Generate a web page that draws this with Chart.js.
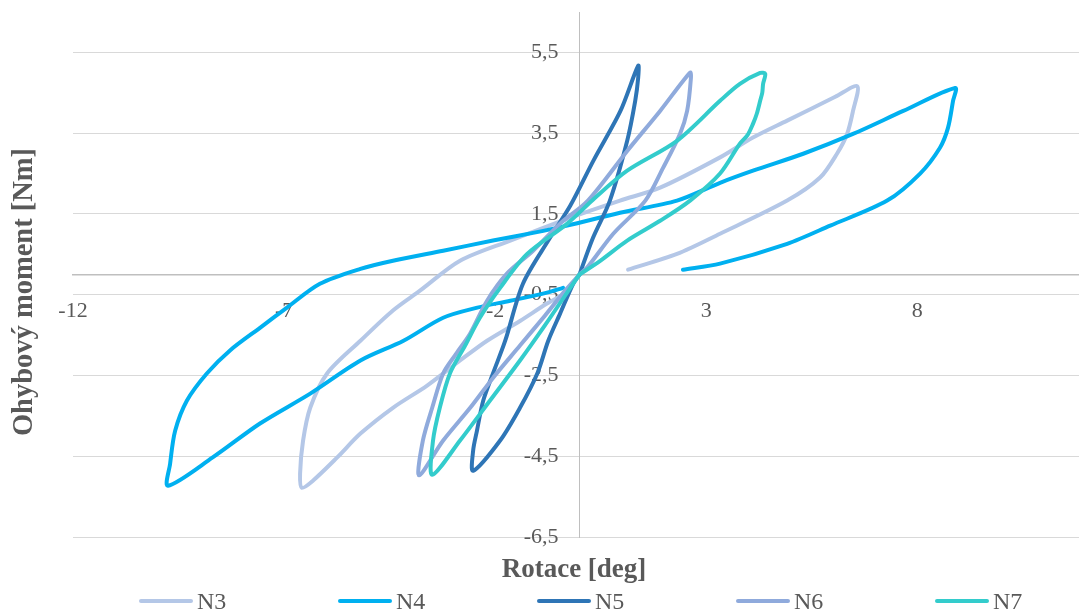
<!DOCTYPE html>
<html lang="cs">
<head>
<meta charset="utf-8">
<title>Ohybový moment – rotace</title>
<script src="https://cdn.jsdelivr.net/npm/chart.js@4.4.1/dist/chart.umd.min.js"></script>
<style>
    html, body { margin: 0; padding: 0; background: #fff; overflow: hidden; }
    #obal { position: relative; width: 1079px; height: 613px; overflow: hidden; }
    #graf { position: absolute; left: 0; top: 0; }
    #legenda {
        position: absolute; left: 139px; top: 587px; height: 28px;
        display: flex; align-items: center;
        font: 24px 'Liberation Serif', 'Times New Roman', serif; color: #595959;
    }
    .polozka { width: 199px; display: flex; align-items: center; }
    .vzorek { width: 54px; height: 4px; border-radius: 2px; margin-right: 4px; }
</style>
</head>
<body>
<div id="obal">
    <canvas id="graf" width="1086" height="613"></canvas>
    <div id="legenda"></div>
</div>
<script>
// Popisky a osy
const nazvySerii = ['N3', 'N4', 'N5', 'N6', 'N7'];
const rotaceTicks = [-12, -7, -2, 3, 8];
const momentTicks = [-6.5, -4.5, -2.5, -0.5, 1.5, 3.5, 5.5];

// Namerene smycky (rotace [deg], moment [Nm])
const n3Rotace = [1.15, 2.31, 3.33, 4.92, 5.70, 6.10, 6.34, 6.48, 6.58, 6.06, 4.92, 4.11, 3.33, 1.91, 0.96, -0.29, -1.64, -2.83, -3.78, -4.42, -5.19, -5.98, -6.38, -6.55, -6.62, -6.58, -6.31, -5.74, -5.19, -4.42, -3.61, -2.83, -2.19, -1.41, -0.77, -0.39];
const n3Moment = [0.12, 0.51, 1.01, 1.83, 2.40, 2.99, 3.48, 4.05, 4.66, 4.40, 3.81, 3.39, 2.90, 2.15, 1.83, 1.38, 0.84, 0.34, -0.40, -0.89, -1.64, -2.45, -3.30, -4.12, -4.93, -5.28, -5.10, -4.53, -3.94, -3.30, -2.75, -2.13, -1.64, -1.15, -0.72, -0.50];

const n4Rotace = [2.45, 3.33, 4.92, 5.94, 7.29, 8.07, 8.54, 8.73, 8.85, 8.90, 7.67, 6.48, 5.30, 4.11, 3.33, 2.31, 0.96, -0.29, -1.10, -2.05, -3.23, -4.42, -5.19, -6.15, -6.93, -7.57, -8.28, -8.83, -9.30, -9.58, -9.70, -9.75, -8.69, -7.57, -6.38, -5.19, -4.17, -3.23, -2.42, -1.64, -0.77, -0.39];
const n4Moment = [0.12, 0.27, 0.76, 1.21, 1.83, 2.50, 3.14, 3.63, 4.30, 4.62, 4.05, 3.48, 2.99, 2.57, 2.27, 1.83, 1.53, 1.21, 1.03, 0.84, 0.59, 0.34, 0.14, -0.23, -0.82, -1.32, -1.88, -2.45, -3.12, -3.87, -4.69, -5.23, -4.53, -3.69, -2.95, -2.13, -1.64, -1.07, -0.82, -0.65, -0.45, -0.33];

const n5Rotace = [0, 0.32, 0.72, 1.13, 1.32, 1.39, 1.39, 0.97, 0.33, -0.22, -0.74, -1.34, -1.76, -2.05, -2.28, -2.43, -2.52, -2.52, -1.88, -1.41, -1.00, -0.74, -0.46, -0.15, 0];
const n5Moment = [0, 0.91, 1.83, 3.31, 4.30, 4.87, 5.17, 4.05, 2.82, 1.70, 0.84, -0.23, -1.64, -2.45, -3.12, -3.87, -4.36, -4.86, -4.11, -3.30, -2.45, -1.64, -0.97, -0.23, 0];

const n6Rotace = [0, 0.18, 0.80, 1.56, 1.98, 2.38, 2.55, 2.64, 2.62, 1.91, 1.13, 0.20, -0.46, -1.10, -1.72, -2.19, -2.59, -2.92, -3.23, -3.49, -3.71, -3.80, -3.23, -2.59, -2.05, -1.41, -0.82, -0.34, 0];
const n6Moment = [0, 0.17, 1.01, 1.83, 2.64, 3.48, 4.05, 4.87, 5.00, 4.05, 3.06, 1.83, 1.26, 0.59, 0.02, -0.65, -1.46, -1.96, -2.45, -3.30, -4.11, -4.97, -4.11, -3.30, -2.56, -1.76, -1.02, -0.40, 0];

const n7Rotace = [0, 0.49, 1.13, 1.91, 2.62, 3.33, 3.80, 3.98, 4.11, 4.20, 4.28, 4.33, 4.35, 4.40, 4.28, 3.80, 3.33, 2.31, 1.13, 0.37, -0.29, -1.24, -1.88, -2.36, -2.71, -3.07, -3.31, -3.47, -3.49, -2.83, -2.12, -1.41, -0.82, -0.34, 0];
const n7Moment = [0, 0.34, 0.84, 1.33, 1.83, 2.50, 3.24, 3.45, 3.73, 3.98, 4.30, 4.50, 4.72, 4.97, 4.99, 4.72, 4.30, 3.31, 2.57, 1.90, 1.26, 0.51, -0.33, -1.07, -1.76, -2.45, -3.30, -4.11, -4.96, -4.11, -3.12, -2.13, -1.26, -0.52, 0];

const barvy = ['#b4c7e7', '#00b0f0', '#2e75b6', '#8faadc', '#33cccc'];
const pismo = "'Liberation Serif', 'Times New Roman', serif";

function body(rotace, moment) {
    return rotace.map((x, i) => ({ x: x, y: moment[i] }));
}

function formatCislo(value) {
    return String(value).replace('.', ',');
}

const serie = [
    [n3Rotace, n3Moment],
    [n4Rotace, n4Moment],
    [n5Rotace, n5Moment],
    [n6Rotace, n6Moment],
    [n7Rotace, n7Moment]
];

/**
 * Popisky os kreslene mimo oblast grafu
 */
const nazvyOs = {
    id: 'nazvyOs',
    afterDraw(chart) {
        const ctx = chart.ctx;
        ctx.save();
        ctx.fillStyle = '#595959';
        ctx.textAlign = 'center';
        ctx.textBaseline = 'alphabetic';
        ctx.font = 'bold 27px ' + pismo;
        ctx.fillText('Rotace [deg]', 574, 577);
        ctx.font = 'bold 28.5px ' + pismo;
        ctx.translate(32, 292);
        ctx.rotate(-Math.PI / 2);
        ctx.fillText('Ohybový moment [Nm]', 0, 0);
        ctx.restore();
    }
};

const ctx = document.getElementById('graf').getContext('2d');
const graf = new Chart(ctx, {
    type: 'scatter',
    data: {
        datasets: nazvySerii.map((nazev, i) => ({
            label: nazev,
            data: body(serie[i][0], serie[i][1]),
            showLine: true,
            borderColor: barvy[i],
            backgroundColor: barvy[i],
            borderWidth: 4,
            borderJoinStyle: 'round',
            borderCapStyle: 'round',
            pointRadius: 0,
            pointHoverRadius: 0,
            tension: 0.3,
            order: nazvySerii.length - i
        }))
    },
    options: {
        responsive: false,
        animation: false,
        devicePixelRatio: 1,
        layout: {
            padding: { left: 73, right: 0, top: 12, bottom: 76 }
        },
        plugins: {
            legend: { display: false },
            tooltip: { enabled: false }
        },
        scales: {
            x: {
                type: 'linear',
                position: 'center',
                min: -12,
                max: 12,
                afterBuildTicks: axis => { axis.ticks = rotaceTicks.map(v => ({ value: v })); },
                grid: { display: false },
                border: { display: true, color: '#bfbfbf', width: 1.5 },
                ticks: {
                    autoSkip: false,
                    maxRotation: 0,
                    minRotation: 0,
                    padding: 18,
                    color: '#595959',
                    font: { family: pismo, size: 22, lineHeight: 1 },
                    callback: formatCislo
                }
            },
            y: {
                type: 'linear',
                position: 'center',
                min: -6.5,
                max: 6.5,
                afterBuildTicks: axis => { axis.ticks = momentTicks.map(v => ({ value: v })); },
                grid: {
                    color: '#d9d9d9',
                    lineWidth: 1,
                    drawTicks: true,
                    tickLength: 21,
                    tickColor: 'rgba(0,0,0,0)'
                },
                border: { display: true, color: '#bfbfbf', width: 1 },
                ticks: {
                    padding: 0,
                    color: '#595959',
                    font: { family: pismo, size: 22, lineHeight: 1 },
                    callback: formatCislo
                }
            }
        }
    },
    plugins: [nazvyOs]
});

// Legenda pod grafem
const legenda = document.getElementById('legenda');
nazvySerii.forEach((nazev, i) => {
    const polozka = document.createElement('div');
    polozka.className = 'polozka';
    polozka.innerHTML = `<span class="vzorek" style="background:${barvy[i]}"></span><span>${nazev}</span>`;
    legenda.appendChild(polozka);
});
</script>
</body>
</html>
